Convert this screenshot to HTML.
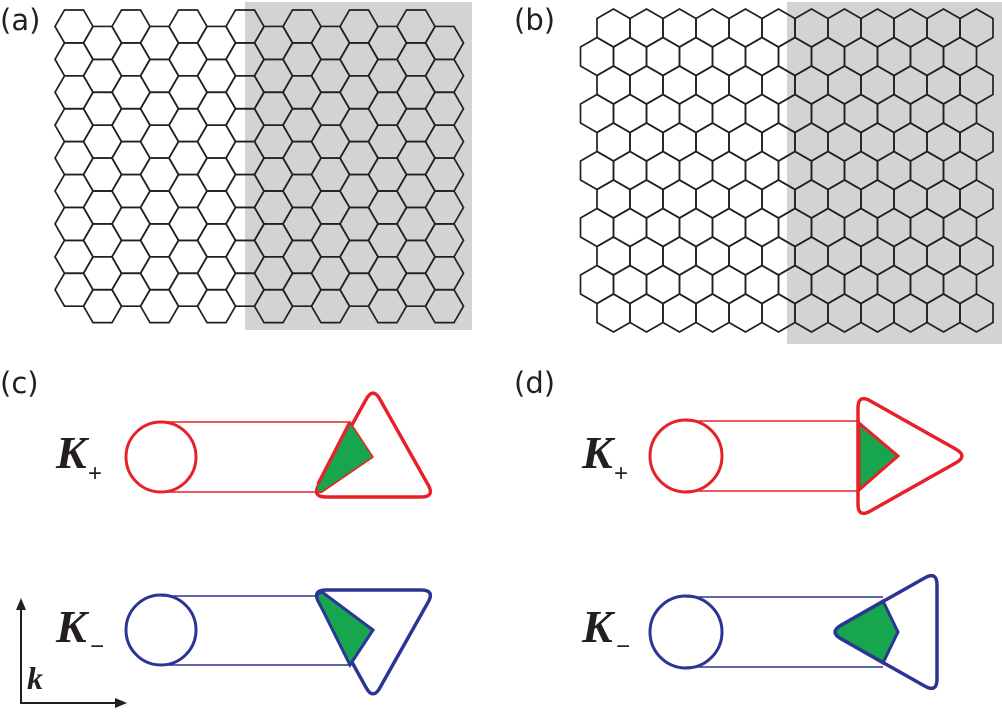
<!DOCTYPE html>
<html><head><meta charset="utf-8"><style>
html,body{margin:0;padding:0;background:#fff;}
svg{display:block;}
.lbl{font-family:"DejaVu Sans","Liberation Sans",sans-serif;font-size:29px;fill:#231f20;}
.K{font-family:"Liberation Serif",serif;font-weight:bold;font-style:italic;font-size:46px;fill:#231f20;}
.sub{font-family:"Liberation Sans",sans-serif;font-size:24px;fill:#231f20;}
</style></head><body>
<svg width="1002" height="712" viewBox="0 0 1002 712" xmlns="http://www.w3.org/2000/svg">
<defs>
<path id="hf" d="M19,0 L9.5,16.454 L-9.5,16.454 L-19,0 L-9.5,-16.454 L9.5,-16.454Z"/>
<g id="colA">
<use href="#hf" y="0"/><use href="#hf" y="32.909"/><use href="#hf" y="65.818"/><use href="#hf" y="98.727"/><use href="#hf" y="131.636"/><use href="#hf" y="164.545"/><use href="#hf" y="197.454"/><use href="#hf" y="230.363"/><use href="#hf" y="263.272"/>
</g>
<path id="hp" d="M0,-19 L16.5,-9.5 L16.5,9.5 L0,19 L-16.5,9.5 L-16.5,-9.5Z"/>
<g id="rowB">
<use href="#hp" x="0"/><use href="#hp" x="33"/><use href="#hp" x="66"/><use href="#hp" x="99"/><use href="#hp" x="132"/><use href="#hp" x="165"/><use href="#hp" x="198"/><use href="#hp" x="231"/><use href="#hp" x="264"/><use href="#hp" x="297"/><use href="#hp" x="330"/><use href="#hp" x="363"/>
</g>
</defs>
<rect x="245" y="2" width="227" height="328" fill="#d1d3d4"/>
<rect x="787" y="2" width="215" height="342" fill="#d1d3d4"/>
<g fill="none" stroke="#231f20" stroke-width="1.7">
<use href="#colA" x="74" y="26.45"/><use href="#colA" x="131" y="26.45"/><use href="#colA" x="188" y="26.45"/><use href="#colA" x="245" y="26.45"/><use href="#colA" x="302" y="26.45"/><use href="#colA" x="359" y="26.45"/><use href="#colA" x="416" y="26.45"/>
<use href="#colA" x="102.5" y="42.9"/><use href="#colA" x="159.5" y="42.9"/><use href="#colA" x="216.5" y="42.9"/><use href="#colA" x="273.5" y="42.9"/><use href="#colA" x="330.5" y="42.9"/><use href="#colA" x="387.5" y="42.9"/><use href="#colA" x="444.5" y="42.9"/>
</g>
<g fill="none" stroke="#231f20" stroke-width="1.7">
<use href="#rowB" x="613.5" y="28"/><use href="#rowB" x="613.5" y="85"/><use href="#rowB" x="613.5" y="142"/><use href="#rowB" x="613.5" y="199"/><use href="#rowB" x="613.5" y="256"/><use href="#rowB" x="613.5" y="313"/>
<use href="#rowB" x="597" y="56.5"/><use href="#rowB" x="597" y="113.5"/><use href="#rowB" x="597" y="170.5"/><use href="#rowB" x="597" y="227.5"/><use href="#rowB" x="597" y="284.5"/>
</g>
<text class="lbl" x="0" y="30">(a)</text>
<text class="lbl" x="514" y="30">(b)</text>
<text class="lbl" x="0" y="393">(c)</text>
<text class="lbl" x="514" y="393">(d)</text>

<!-- (c) K+ -->
<g stroke="#e8202a" fill="none">
<line x1="161" y1="422" x2="350" y2="422" stroke-width="1.5"/>
<line x1="161" y1="492" x2="322" y2="492" stroke-width="1.5"/>
<circle cx="161" cy="457" r="35" stroke-width="3"/>
<path d="M366.2,399.2 Q373,387 379.9,399.2 L428.1,484.8 Q435,497 421,497 L326,497 Q312,497 318.8,484.8Z" stroke-width="3.5"/>
<path d="M350,422 L373,457 L322,492 Q314,494 318,484 Z" fill="#17a64d" stroke-width="1.5"/>
<line x1="350" y1="422" x2="318" y2="484" stroke-width="3.5"/>
</g>
<!-- (c) K- -->
<g stroke="#2b3593" fill="none">
<line x1="161" y1="596" x2="322" y2="596" stroke-width="1.5"/>
<line x1="161" y1="665" x2="350" y2="665" stroke-width="1.5"/>
<circle cx="161" cy="630" r="35" stroke-width="3"/>
<path d="M366.2,687.8 Q373,700 379.9,687.8 L428.1,602.2 Q435,590 421,590 L326,590 Q312,590 318.8,602.2Z" stroke-width="3.5"/>
<path d="M322,592 L373,630 L350,665 L318.8,602.2 Q314,594 322,592Z" fill="#17a64d" stroke-width="3"/>
</g>
<!-- (d) K+ -->
<g stroke="#e8202a" fill="none">
<line x1="686" y1="421" x2="860" y2="421" stroke-width="1.5"/>
<line x1="686" y1="491" x2="860" y2="491" stroke-width="1.5"/>
<circle cx="686" cy="456" r="36" stroke-width="3"/>
<path d="M858,408 Q858,394 870.2,400.9 L955.8,449.1 Q968,456 955.8,462.9 L870.2,511.1 Q858,518 858,504Z" stroke-width="3.5"/>
<polygon points="859,423 898,456 859,490" fill="#17a64d" stroke-width="3"/>
</g>
<!-- (d) K- -->
<g stroke="#2b3593" fill="none">
<line x1="686" y1="597" x2="883" y2="597" stroke-width="1.5"/>
<line x1="686" y1="667" x2="883" y2="667" stroke-width="1.5"/>
<circle cx="686" cy="632" r="36" stroke-width="3"/>
<path d="M883,601 L898,632 L883,663 L841.2,638.9 Q829,632 841.2,625.1Z" fill="#17a64d" stroke-width="3"/>
<path d="M841.2,625.1 L924.8,577.9 Q937,571 937,585 L937,679 Q937,693 924.8,686.1 L841.2,638.9 Q829,632 841.2,625.1Z" stroke-width="3.5"/>
</g>

<text class="K" x="56" y="468">K</text><text class="sub" x="88" y="481">+</text>
<text class="K" x="56" y="642">K</text><text class="sub" x="90" y="654">−</text>
<text class="K" x="582" y="468">K</text><text class="sub" x="614" y="481">+</text>
<text class="K" x="582" y="642">K</text><text class="sub" x="616" y="654">−</text>

<!-- axes -->
<g stroke="#231f20" stroke-width="2" fill="#231f20">
<line x1="21" y1="703" x2="21" y2="604"/>
<line x1="20" y1="703" x2="120" y2="703"/>
<polygon points="21,598 16,610 26,610" stroke="none"/>
<polygon points="127,703 115,698 115,708" stroke="none"/>
</g>
<text class="K" x="27" y="689" style="font-size:32px">k</text>
</svg>
</body></html>
